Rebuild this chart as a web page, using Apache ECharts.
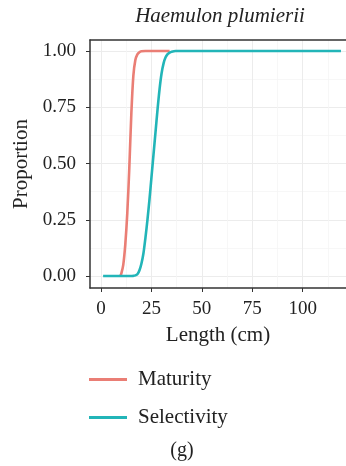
<!DOCTYPE html>
<html><head><meta charset="utf-8">
<script src="https://cdn.jsdelivr.net/npm/echarts@6/dist/echarts.min.js"></script>
<style>html,body{margin:0;padding:0;background:#fff;}#c{width:346px;height:466px;}</style>
</head><body><div id="c"></div>
<script>
const title = 'Haemulon plumierii';
const xTicks = [0, 25, 50, 75, 100];
const xMinor = [12.5, 37.5, 62.5, 87.5, 112.5];
const yTicks = [0, 0.25, 0.5, 0.75, 1.0];
const yMinor = [0.125, 0.375, 0.625, 0.875];
const maturityLen = [9.5, 10, 11, 12, 13, 14, 15, 16, 17, 18, 19, 20, 22, 25, 30, 34];
const maturityVal = [0.0, 0.01, 0.05, 0.14, 0.28, 0.48, 0.72, 0.89, 0.96, 0.985, 0.995, 0.999, 1.0, 1.0, 1.0, 1.0];
const selectLen = [1, 5, 10, 15, 16, 17, 18, 19, 20, 21, 22, 23, 24, 25, 26, 27, 28, 29, 30, 31, 32, 33, 34, 35, 37, 40, 60, 80, 100, 119];
const selectVal = [0, 0, 0, 0, 0.001, 0.003, 0.008, 0.025, 0.055, 0.1, 0.17, 0.25, 0.34, 0.44, 0.54, 0.64, 0.74, 0.83, 0.9, 0.945, 0.972, 0.986, 0.993, 0.997, 1.0, 1.0, 1.0, 1.0, 1.0, 1.0];
const seriesNames = ['Maturity', 'Selectivity'];
const colors = ['#EA7E75', '#22B5B8'];
const panelLabel = '(g)';

const font = 'Liberation Serif';
const ink = '#222';
const chart = echarts.init(document.getElementById('c'));
const gridLine = {show: true, lineStyle: {color: '#ececec', width: 1}};
const minorLine = {show: true, lineStyle: {color: '#f5f5f5', width: 0.8}};
const legendText = {fontFamily: font, fontSize: 21, color: ink, padding: [0, 0, 0, 6]};
chart.setOption({
  animation: false,
  title: [
    {text: title, left: 220, top: 6, padding: 0, textAlign: 'center', textStyle: {fontFamily: font, fontStyle: 'italic', fontWeight: 'normal', fontSize: 21, color: ink}},
    {text: panelLabel, left: 182, top: 441, padding: 0, textAlign: 'center', textStyle: {fontFamily: font, fontWeight: 'normal', fontSize: 20, color: ink}}
  ],
  legend: [
    {data: [seriesNames[0]], orient: 'vertical', left: 89, top: 369, padding: 0, icon: 'rect', itemWidth: 38, itemHeight: 3, textStyle: legendText},
    {data: [seriesNames[1]], orient: 'vertical', left: 89, top: 407, padding: 0, icon: 'rect', itemWidth: 38, itemHeight: 3, textStyle: legendText}
  ],
  grid: [{left: 90, top: 40, right: 0, height: 248, containLabel: false}],
  xAxis: [{
    type: 'value', min: -5.5, max: 121.5, gridIndex: 0,
    name: 'Length (cm)', nameLocation: 'middle', nameGap: 37,
    nameTextStyle: {fontFamily: font, fontSize: 21, color: ink},
    axisLine: {show: true, onZero: false, lineStyle: {color: '#333', width: 1.5}},
    axisTick: {show: true, length: 4, customValues: xTicks, lineStyle: {color: '#333'}},
    axisLabel: {customValues: xTicks, fontFamily: font, fontSize: 19, color: ink, margin: 12},
    splitLine: gridLine
  }, {
    type: 'value', min: -5.5, max: 121.5, gridIndex: 0, position: 'top',
    axisLine: {show: true, onZero: false, lineStyle: {color: '#333', width: 1.5}},
    axisTick: {show: false, customValues: xMinor},
    axisLabel: {show: false, customValues: xMinor},
    splitLine: minorLine
  }],
  yAxis: [{
    type: 'value', min: -0.053, max: 1.049, gridIndex: 0,
    name: 'Proportion', nameLocation: 'middle', nameGap: 56, nameRotate: 90,
    nameTextStyle: {fontFamily: font, fontSize: 21, color: ink},
    axisLine: {show: true, onZero: false, lineStyle: {color: '#333', width: 1.5}},
    axisTick: {show: true, length: 4, customValues: yTicks, lineStyle: {color: '#333'}},
    axisLabel: {customValues: yTicks, formatter: v => v.toFixed(2), fontFamily: font, fontSize: 19, color: ink, margin: 14},
    splitLine: gridLine
  }, {
    type: 'value', min: -0.053, max: 1.049, gridIndex: 0, position: 'right',
    axisLine: {show: false},
    axisTick: {show: false, customValues: yMinor},
    axisLabel: {show: false, customValues: yMinor},
    splitLine: minorLine
  }],
  series: [
    {name: seriesNames[0], type: 'line', xAxisIndex: 0, yAxisIndex: 0, showSymbol: false, smooth: 0.3,
     data: maturityLen.map((x, i) => [x, maturityVal[i]]), lineStyle: {color: colors[0], width: 2.6}, itemStyle: {color: colors[0]}, z: 3},
    {name: seriesNames[1], type: 'line', xAxisIndex: 0, yAxisIndex: 0, showSymbol: false, smooth: 0.3,
     data: selectLen.map((x, i) => [x, selectVal[i]]), lineStyle: {color: colors[1], width: 2.6}, itemStyle: {color: colors[1]}, z: 4}
  ]
});
</script></body></html>
